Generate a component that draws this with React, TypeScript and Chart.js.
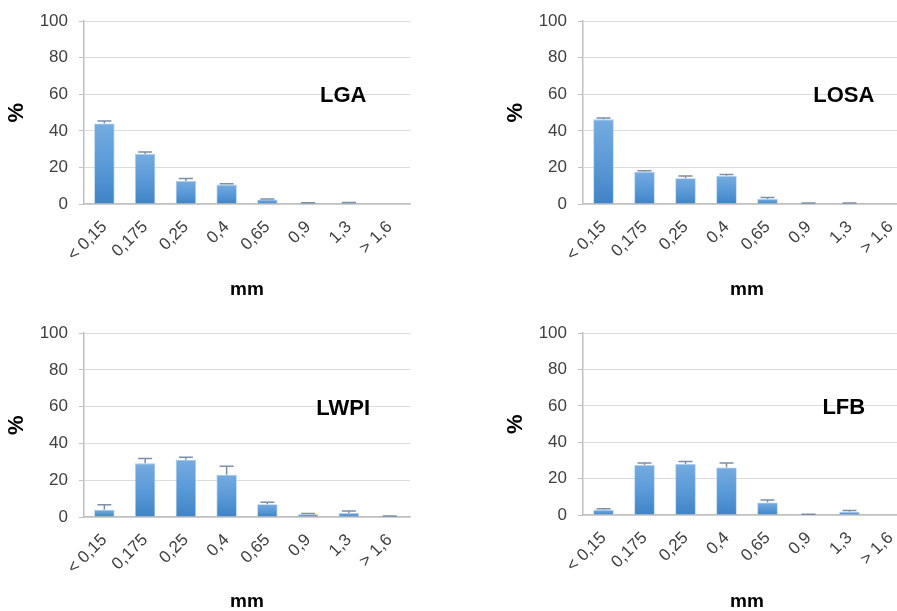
import React, { useEffect, useRef } from "react";
import { Chart, registerables } from "chart.js";

Chart.register(...registerables);

const categories = ["< 0,15", "0,175", "0,25", "0,4", "0,65", "0,9", "1,3", "> 1,6"];
const yTicks = [0, 20, 40, 60, 80, 100];

const lgaValues = [44.1, 27.3, 12.6, 10.6, 2.5, 0.5, 0.6, 0];
const lgaErrors = [1.3, 1.2, 1.3, 0.5, 0.3, 0.2, 0.2, 0];

const losaValues = [46.3, 17.7, 14.1, 15.4, 2.7, 0.4, 0.4, 0];
const losaErrors = [0.7, 0.5, 1.2, 0.8, 0.9, 0.2, 0.2, 0];

const lwpiValues = [4.0, 29.2, 31.2, 23.0, 6.9, 1.5, 2.2, 0.5];
const lwpiErrors = [2.7, 2.6, 1.3, 4.6, 1.1, 0.4, 1.0, 0.1];

const lfbValues = [2.9, 27.5, 28.1, 26.1, 6.9, 0.3, 1.8, 0];
const lfbErrors = [0.6, 1.1, 1.3, 2.5, 1.3, 0.1, 0.7, 0];

const FONT = "'Liberation Sans', Arial, sans-serif";

type Panel = {
  label: string;
  values: number[];
  errors: number[];
  left: number;
  top: number;
  width: number;
  height: number;
  xAxisHeight: number;
};

const panels: Panel[] = [
  { label: "LGA", values: lgaValues, errors: lgaErrors, left: 0, top: 0, width: 440, height: 305, xAxisHeight: 101 },
  { label: "LOSA", values: losaValues, errors: losaErrors, left: 499, top: 0, width: 442, height: 305, xAxisHeight: 101 },
  { label: "LWPI", values: lwpiValues, errors: lwpiErrors, left: 0, top: 312, width: 440, height: 305, xAxisHeight: 100 },
  { label: "LFB", values: lfbValues, errors: lfbErrors, left: 499, top: 312, width: 442, height: 305, xAxisHeight: 102 },
];

function PanelChart({ p }: { p: Panel }) {
  const ref = useRef<HTMLCanvasElement>(null);
  useEffect(() => {
    if (!ref.current) return;
    const errorBars = {
      id: "errorBars",
      afterDatasetsDraw(chart: any) {
        const ctx = chart.ctx;
        const meta = chart.getDatasetMeta(0);
        const y = chart.scales.y;
        ctx.save();
        ctx.strokeStyle = "#7d8ea8";
        ctx.lineWidth = 1.5;
        meta.data.forEach((bar: any, i: number) => {
          const v = p.values[i];
          const e = p.errors[i];
          if (e <= 0) return;
          const y0 = y.getPixelForValue(v);
          const y1 = y.getPixelForValue(v + e);
          ctx.beginPath();
          ctx.moveTo(bar.x, y0);
          ctx.lineTo(bar.x, y1);
          ctx.moveTo(bar.x - 7, y1);
          ctx.lineTo(bar.x + 7, y1);
          ctx.stroke();
        });
        ctx.restore();
      },
    };
    const panelLabel = {
      id: "panelLabel",
      afterDraw(chart: any) {
        const ctx = chart.ctx;
        const a = chart.chartArea;
        const yy = chart.scales.y.getPixelForValue(59);
        ctx.save();
        ctx.font = `bold 22px ${FONT}`;
        ctx.fillStyle = "#000000";
        ctx.textAlign = "center";
        ctx.textBaseline = "middle";
        ctx.fillText(p.label, a.left + (a.right - a.left) * 0.795, yy);
        ctx.restore();
      },
    };
    const chart = new Chart(ref.current, {
      type: "bar",
      data: {
        labels: categories,
        datasets: [
          {
            data: p.values,
            backgroundColor: (c: any) => {
              const ch = c.chart;
              if (!ch.chartArea || c.dataIndex === undefined) return "#5b9bd5";
              const ys = ch.scales.y;
              const top = ys.getPixelForValue(p.values[c.dataIndex]);
              const base = ys.getPixelForValue(0);
              if (!(base - top > 0.5)) return "#5b9bd5";
              const g = ch.ctx.createLinearGradient(0, top, 0, base);
              g.addColorStop(0, "#75abdf");
              g.addColorStop(0.5, "#5b9ad8");
              g.addColorStop(1, "#3f84c6");
              return g;
            },
            borderColor: "rgba(150,190,230,0.8)",
            borderWidth: 0.8,
            barPercentage: 0.5,
            categoryPercentage: 1,
          },
        ],
      },
      options: {
        animation: false,
        responsive: false,
        maintainAspectRatio: false,
        layout: { padding: { left: 0, right: 30, top: 20, bottom: 0 } },
        plugins: { legend: { display: false }, tooltip: { enabled: false } },
        scales: {
          x: {
            grid: { display: false },
            border: { display: true, color: "#c0c0c0", width: 1.5 },
            ticks: {
              maxRotation: 45,
              minRotation: 45,
              autoSkip: false,
              color: "#404040",
              font: { family: FONT, size: 17 },
              padding: 5,
            },
            title: {
              display: true,
              text: "mm",
              color: "#000000",
              font: { family: FONT, size: 19, weight: "bold" },
              padding: { top: 0, bottom: 4 },
            },
            afterFit: (s: any) => {
              s.height = p.xAxisHeight;
            },
          },
          y: {
            min: 0,
            max: 100,
            afterBuildTicks: (s: any) => {
              s.ticks = yTicks.map((v) => ({ value: v }));
            },
            grid: { color: "#dcdcdc", lineWidth: 1, tickLength: 5, tickColor: "#c0c0c0" },
            border: { display: true, color: "#c0c0c0", width: 1.5 },
            ticks: {
              color: "#404040",
              font: { family: FONT, size: 17 },
              padding: 11,
            },
            title: {
              display: true,
              text: "%",
              color: "#000000",
              font: { family: FONT, size: 22, weight: "bold" },
              padding: { top: 4, bottom: 0 },
            },
            afterFit: (s: any) => {
              s.width = 84;
            },
          },
        },
      },
      plugins: [errorBars, panelLabel],
    } as any);
    return () => chart.destroy();
  }, [p]);
  return (
    <canvas
      ref={ref}
      width={p.width}
      height={p.height}
      style={{ position: "absolute", left: p.left, top: p.top, width: p.width, height: p.height }}
    />
  );
}

export default function App() {
  useEffect(() => {
    document.body.style.margin = "0";
    document.body.style.overflow = "hidden";
  }, []);
  return (
    <div
      style={{
        position: "fixed",
        left: 0,
        top: 0,
        width: 897,
        height: 611,
        overflow: "hidden",
        background: "#ffffff",
      }}
    >
      {panels.map((p) => (
        <PanelChart key={p.label} p={p} />
      ))}
    </div>
  );
}
